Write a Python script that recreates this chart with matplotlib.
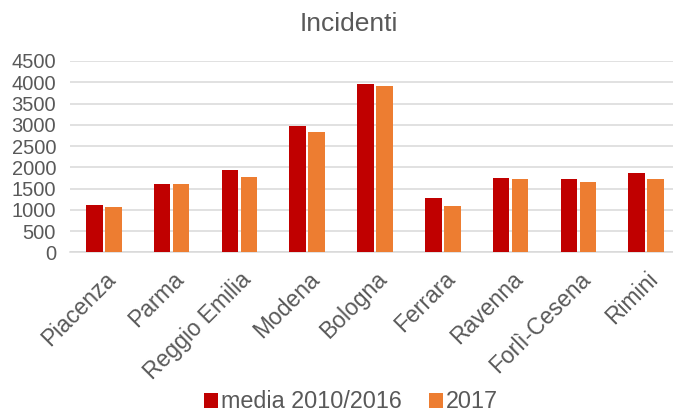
import matplotlib
matplotlib.use("Agg")
import matplotlib.pyplot as plt
import matplotlib.transforms as mtransforms
import numpy as np

plt.rcParams['font.family'] = ['Liberation Sans', 'DejaVu Sans']

categories = ["Piacenza", "Parma", "Reggio Emilia", "Modena", "Bologna",
              "Ferrara", "Ravenna", "Forlì-Cesena", "Rimini"]
media = [1113, 1600, 1944, 2962, 3966, 1277, 1740, 1716, 1873]
y2017 = [1058, 1595, 1763, 2829, 3911, 1097, 1724, 1661, 1724]
yticks = [0, 500, 1000, 1500, 2000, 2500, 3000, 3500, 4000, 4500]

TXT = '#595959'
W, H = 673, 412
fig = plt.figure(figsize=(W/100, H/100), dpi=100)
ax = fig.add_axes([70/W, 1-252.3/H, 610/W, (252.3-61)/H])

x = np.arange(len(categories))
bw = 0.245
ax.bar(x - 0.14, media, bw, color='#C00000', label='media 2010/2016', zorder=3)
ax.bar(x + 0.14, y2017, bw, color='#ED7D31', label='2017', zorder=3)

ax.set_xlim(-0.5, len(categories) - 0.5)
ax.set_ylim(0, 4500)
ax.set_yticks(yticks)
ax.yaxis.grid(True, color='#D9D9D9', linewidth=1.1, zorder=0)
for s in ['top', 'right', 'left']:
    ax.spines[s].set_visible(False)
ax.spines['bottom'].set_color('#D9D9D9')
ax.spines['bottom'].set_linewidth(1.1)
ax.tick_params(axis='both', length=0, colors=TXT, labelsize=14.5)
ax.tick_params(axis='y', pad=10)
ax.set_xticks(x)
ax.set_xticklabels([])

trans = mtransforms.blended_transform_factory(ax.transData, ax.transAxes) + \
    mtransforms.ScaledTranslation(13/100, -28/100, fig.dpi_scale_trans)
for xi, lab in zip(x, categories):
    ax.text(xi, 0, lab, transform=trans, rotation=45, rotation_mode='anchor',
            ha='right', va='baseline', fontsize=16.5, color=TXT, clip_on=False)

fig.text(348.5/W, 1-24/H, "Incidenti", ha='center', va='center', fontsize=19, color=TXT)
fig.legend(loc='center', bbox_to_anchor=(351/W, 1-402/H), ncol=2, frameon=False,
           fontsize=16.8, handlelength=0.6, handleheight=0.6, handletextpad=0.15,
           columnspacing=1.15, labelcolor=TXT, borderpad=0, borderaxespad=0)

fig.savefig("out.png", dpi=100)
